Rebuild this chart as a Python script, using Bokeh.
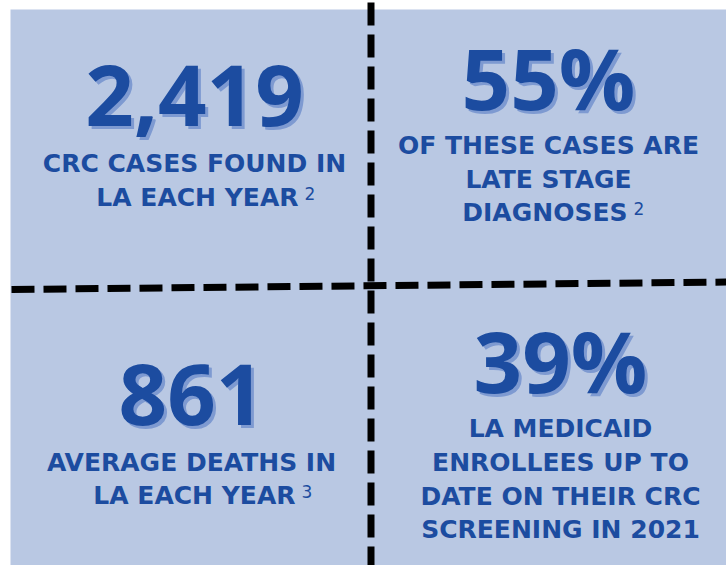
from bokeh.plotting import figure
from bokeh.models import Range1d
from bokeh.core.properties import value
from bokeh.embed import file_html
from bokeh.resources import INLINE

# ---------------- data ----------------
stats = ["2,419", "55%", "861", "39%"]
captions = [
    ["CRC CASES FOUND IN", "LA EACH YEAR"],
    ["OF THESE CASES ARE", "LATE STAGE", "DIAGNOSES"],
    ["AVERAGE DEATHS IN", "LA EACH YEAR"],
    ["LA MEDICAID", "ENROLLEES UP TO", "DATE ON THEIR CRC", "SCREENING IN 2021"],
]
footnotes = ["2", "2", "3", ""]

# ---------------- layout / style ----------------
BG = "#b9c8e3"
BLUE = "#1c4ca0"
SHADOW = "#7e9ad1"
# per panel: centre x, stat baseline, first caption baseline, line step, right end of last line
panels = [
    (194, 128, 173, 34.0, 298),
    (548, 110, 155, 33.5, 627),
    (191, 427, 472, 33.0, 295),
    (560, 393, 438, 33.7, None),
]
BASE_FIX = 0.39  # renderer places the alphabetic baseline this many em low

STAT_SIZE, CAP_SIZE, FN_SIZE = 85, 25, 17

W, H = 726, 565
p = figure(width=W, height=H, x_range=Range1d(0, W), y_range=Range1d(H, 0),
           output_backend="svg", toolbar_location=None,
           x_axis_location=None, y_axis_location=None, min_border=0)
p.grid.visible = False
p.outline_line_color = None
p.background_fill_color = "white"
p.border_fill_color = "white"

# panel background
p.quad(left=[10], right=[727], top=[9], bottom=[566], fill_color=BG, line_color=None)

# dashed dividers
p.line([11, 727], [289, 281.5], line_width=7, line_color="black", line_dash="23 9", line_cap="butt")
p.line([370.5, 370.5], [2, 566], line_width=7, line_color="black", line_dash="23 9", line_cap="butt")

STAT_FONT = value("Open Sans")
CAP_FONT = value("DejaVu Sans")


def base(y, size):
    return y - BASE_FIX * size


for (cx, sy, cy0, dy, rend), stat, caps, fn in zip(panels, stats, captions, footnotes):
    # big number with drop shadow
    for dx, col in ((3, SHADOW), (0, BLUE)):
        p.text(x=[cx + dx], y=[base(sy + dx, STAT_SIZE)], text=[stat], text_font=STAT_FONT,
               text_font_style="bold", text_font_size=f"{STAT_SIZE}px", text_color=col,
               text_align="center", text_baseline="alphabetic")
    for i, line in enumerate(caps):
        y = cy0 + i * dy
        last = i == len(caps) - 1
        if last and fn:
            p.text(x=[rend], y=[base(y, CAP_SIZE)], text=[line], text_font=CAP_FONT,
                   text_font_style="bold", text_font_size=f"{CAP_SIZE}px", text_color=BLUE,
                   text_align="right", text_baseline="alphabetic")
            p.text(x=[rend + 6], y=[base(y - 7, FN_SIZE)], text=[fn], text_font=CAP_FONT,
                   text_font_size=f"{FN_SIZE}px", text_color=BLUE, text_align="left",
                   text_baseline="alphabetic")
        else:
            p.text(x=[cx], y=[base(y, CAP_SIZE)], text=[line], text_font=CAP_FONT,
                   text_font_style="bold", text_font_size=f"{CAP_SIZE}px", text_color=BLUE,
                   text_align="center", text_baseline="alphabetic")

open("out.html", "w").write(file_html(p, INLINE))
